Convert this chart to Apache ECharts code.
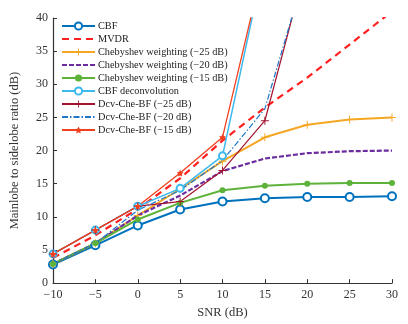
<!DOCTYPE html>
<html>
<head>
<meta charset="utf-8">
<script src="https://cdn.jsdelivr.net/npm/echarts@6/dist/echarts.min.js"></script>
<style>
  html, body { margin: 0; padding: 0; background: #fff; }
  #chart { width: 408px; height: 324px; }
</style>
</head>
<body>
<div id="chart"></div>
<script>
// SNR (dB)
const snr = [-10, -5, 0, 5, 10, 15, 20, 25, 30];

// mainlobe to sidelobe ratio (dB)
const cbf = [2.8, 5.7, 8.7, 11.1, 12.3, 12.8, 13.0, 13.0, 13.1];
const mvdr = [3.8, 7.2, 11.2, 15.8, 21.5, 26.5, 31.0, 36.0, 41.0];
const cheb25 = [2.9, 6.0, 10.2, 14.2, 18.4, 22.0, 23.9, 24.7, 25.0];
const cheb20 = [2.9, 6.0, 10.2, 13.2, 16.9, 18.8, 19.6, 19.9, 20.0];
const cheb15 = [2.9, 6.0, 9.6, 12.1, 14.0, 14.7, 15.0, 15.1, 15.1];
const cbfDcv = [4.4, 8.0, 11.6, 14.3, 19.2, 49.0];
const dcvChe25 = [4.4, 8.0, 11.6, 12.3, 17.0, 24.5, 48.7];
const dcvChe20 = [2.9, 6.0, 11.0, 14.0, 18.5, 26.3, 48.0];
const dcvChe15 = [4.4, 8.0, 11.6, 16.6, 22.0, 49.0];

const names = [
    'CBF', 'MVDR', 'Chebyshev weighting (\u221225 dB)', 'Chebyshev weighting (\u221220 dB)',
    'Chebyshev weighting (\u221215 dB)', 'CBF deconvolution', 'Dcv-Che-BF (\u221225 dB)',
    'Dcv-Che-BF (\u221220 dB)', 'Dcv-Che-BF (\u221215 dB)',
];
// series drawn without markers: hide the dot the legend would add
const noMarker = [names[1], names[3], names[7]];

const PLUS = 'path://M-1,-0.12H1V0.12H-1Z M-0.12,-1H0.12V1H-0.12Z';
const STAR = 'path://M0,-1L0.29,-0.4L0.95,-0.31L0.47,0.15L0.59,0.81L0,0.5L-0.59,0.81L-0.47,0.15L-0.95,-0.31L-0.29,-0.4Z';
const SERIF = '"Liberation Serif", "DejaVu Serif", serif';

function pairs(ys) {
    return ys.map((y, i) => [snr[i], y]);
}

function line(name, ys, color, opts) {
    return Object.assign({
        name: name,
        type: 'line',
        data: pairs(ys),
        color: color,
        symbol: 'none',
        symbolSize: 6,
        lineStyle: { color: color, width: 2 },
        itemStyle: { color: color },
        clip: true,
        animation: false,
    }, opts || {});
}

const chart = echarts.init(document.getElementById('chart'));

chart.setOption({
    backgroundColor: '#fff',
    animation: false,
    grid: { left: 52, right: 16, top: 18, bottom: 38 },
    legend: {
        orient: 'vertical',
        left: 56,
        top: 16,
        itemWidth: 33,
        itemHeight: 9,
        itemGap: 3,
        textStyle: { fontFamily: SERIF, fontSize: 10.3, lineHeight: 9, color: '#222', padding: [0, 0, 0, -2] },
        data: names.map((n) => (noMarker.includes(n) ? { name: n, itemStyle: { opacity: 0 } } : n)),
    },
    xAxis: {
        type: 'value',
        min: -10,
        max: 30,
        interval: 5,
        name: 'SNR (dB)',
        nameLocation: 'middle',
        nameGap: 21,
        nameTextStyle: { fontFamily: SERIF, fontSize: 12.5, color: '#333' },
        axisLine: { onZero: false, lineStyle: { color: '#333', width: 1.2 } },
        axisTick: { inside: true, length: 4, lineStyle: { color: '#333' } },
        axisLabel: {
            fontFamily: SERIF, fontSize: 12, color: '#333', margin: 6,
            formatter: (v) => String(v).replace('-', '\u2212'),
        },
        splitLine: { show: false },
    },
    yAxis: {
        type: 'value',
        min: 0,
        max: 40,
        interval: 5,
        name: 'Mainlobe to sidelobe ratio (dB)',
        nameLocation: 'middle',
        nameGap: 32,
        nameTextStyle: { fontFamily: SERIF, fontSize: 12.5, color: '#333' },
        axisLine: { show: true, onZero: false, lineStyle: { color: '#333', width: 1.2 } },
        axisTick: { show: true, inside: true, length: 4, lineStyle: { color: '#333' } },
        axisLabel: { fontFamily: SERIF, fontSize: 12, color: '#333', margin: 5 },
        splitLine: { show: false },
    },
    series: [
        line(names[0], cbf, '#0072BD', {
            symbol: 'emptyCircle', symbolSize: 8,
            itemStyle: { color: '#0072BD', borderWidth: 2 },
        }),
        line(names[1], mvdr, '#FF2020', {
            lineStyle: { color: '#FF2020', width: 2.2, type: [7, 5] },
        }),
        line(names[2], cheb25, '#F5A623', { symbol: PLUS, symbolSize: 8 }),
        line(names[3], cheb20, '#6A2C9E', {
            lineStyle: { color: '#6A2C9E', width: 2.2, type: [5, 2] },
        }),
        line(names[4], cheb15, '#5DB33A', { symbol: 'circle', symbolSize: 6 }),
        line(names[5], cbfDcv, '#3CB9EE', {
            symbol: 'emptyCircle', symbolSize: 7,
            lineStyle: { color: '#3CB9EE', width: 1.5 },
            itemStyle: { color: '#3CB9EE', borderWidth: 1.5 },
        }),
        line(names[6], dcvChe25, '#A2142F', {
            symbol: PLUS, symbolSize: 8,
            lineStyle: { color: '#A2142F', width: 1.2 },
        }),
        line(names[7], dcvChe20, '#1F77C8', {
            lineStyle: { color: '#1F77C8', width: 1.2, type: [6, 2, 1.5, 2] },
        }),
        line(names[8], dcvChe15, '#F0401E', {
            symbol: STAR, symbolSize: 7,
            lineStyle: { color: '#F0401E', width: 1.3 },
        }),
    ],
});
</script>
</body>
</html>
